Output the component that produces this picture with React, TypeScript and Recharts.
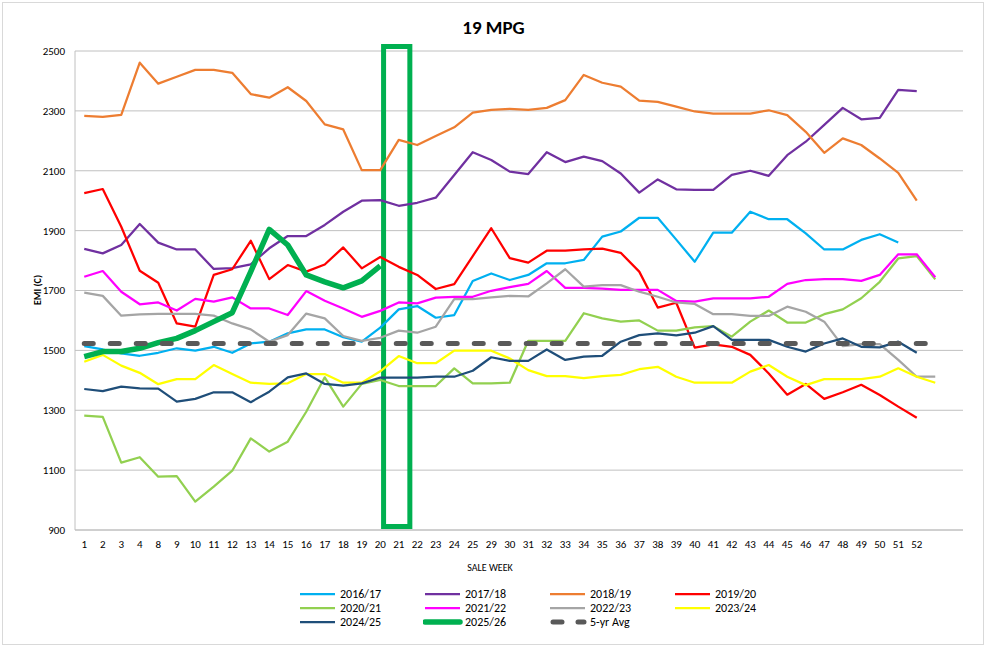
import React from "react";
import {
  LineChart,
  Line,
  XAxis,
  YAxis,
  CartesianGrid,
  ReferenceArea,
} from "recharts";

// ── sale weeks (last two slots are unlabelled) ──
const weeks = [
  "1", "2", "3", "4", "8", "9", "10", "11", "12", "13", "14", "15", "16", "17", "18", "19",
  "20", "21", "22", "23", "24", "25", "29", "30", "31", "32", "33", "34", "35", "36", "37",
  "38", "39", "40", "41", "42", "43", "44", "45", "46", "47", "48", "49", "50", "51", "52",
  "", "",
];

const yTicks = [900, 1100, 1300, 1500, 1700, 1900, 2100, 2300, 2500];

// ── EMI values per season ──
const s1617 = [1514, 1503, 1490, 1482, 1492, 1507, 1499, 1512, 1492, 1523, 1529, 1557, 1570, 1570, 1544, 1529, 1576, 1637, 1648, 1609, 1618, 1732, 1757, 1735, 1752, 1791, 1791, 1802, 1880, 1897, 1943, 1943, 1870, 1796, 1893, 1893, 1963, 1938, 1938, 1891, 1837, 1837, 1869, 1888, 1860];
const s1718 = [1839, 1824, 1852, 1922, 1860, 1837, 1837, 1772, 1775, 1787, 1841, 1882, 1882, 1919, 1963, 2000, 2002, 1983, 1993, 2010, 2086, 2162, 2136, 2097, 2089, 2162, 2129, 2147, 2132, 2091, 2027, 2071, 2038, 2036, 2036, 2086, 2100, 2083, 2152, 2197, 2253, 2310, 2272, 2277, 2370, 2366];
const s1819 = [2283, 2280, 2287, 2461, 2391, 2414, 2437, 2437, 2427, 2356, 2344, 2379, 2333, 2255, 2238, 2102, 2102, 2203, 2186, 2216, 2245, 2294, 2303, 2307, 2303, 2310, 2336, 2420, 2394, 2381, 2334, 2330, 2314, 2298, 2291, 2291, 2291, 2302, 2286, 2230, 2160, 2208, 2186, 2141, 2093, 2000];
const s1920 = [2025, 2039, 1913, 1766, 1726, 1590, 1579, 1752, 1771, 1866, 1738, 1785, 1763, 1787, 1844, 1774, 1812, 1779, 1752, 1705, 1721, 1815, 1908, 1808, 1793, 1833, 1833, 1837, 1840, 1826, 1763, 1643, 1659, 1509, 1520, 1512, 1485, 1423, 1352, 1388, 1338, 1360, 1385, 1351, 1312, 1275];
const s2021 = [1282, 1278, 1125, 1143, 1078, 1080, 995, 1045, 1098, 1206, 1162, 1195, 1295, 1410, 1312, 1388, 1401, 1381, 1381, 1381, 1440, 1390, 1390, 1392, 1532, 1532, 1532, 1624, 1607, 1596, 1600, 1566, 1566, 1577, 1581, 1546, 1596, 1633, 1593, 1593, 1621, 1637, 1674, 1729, 1807, 1815, 1737];
const s2122 = [1746, 1765, 1696, 1654, 1660, 1633, 1672, 1663, 1677, 1640, 1640, 1618, 1698, 1666, 1640, 1612, 1632, 1660, 1657, 1676, 1679, 1679, 1699, 1711, 1722, 1765, 1709, 1709, 1706, 1702, 1702, 1702, 1665, 1663, 1674, 1674, 1674, 1679, 1722, 1735, 1738, 1738, 1732, 1752, 1821, 1821, 1744];
const s2223 = [1693, 1682, 1616, 1620, 1622, 1622, 1622, 1616, 1590, 1570, 1529, 1551, 1623, 1607, 1548, 1532, 1542, 1566, 1559, 1579, 1671, 1671, 1677, 1682, 1680, 1724, 1771, 1713, 1718, 1718, 1696, 1679, 1660, 1655, 1621, 1621, 1615, 1615, 1646, 1629, 1596, 1514, 1521, 1521, 1468, 1412, 1412];
const s2324 = [1462, 1485, 1449, 1425, 1387, 1404, 1404, 1451, 1421, 1392, 1388, 1390, 1421, 1421, 1392, 1392, 1430, 1481, 1457, 1457, 1499, 1499, 1499, 1473, 1434, 1414, 1414, 1407, 1414, 1418, 1437, 1445, 1412, 1392, 1392, 1392, 1429, 1451, 1412, 1384, 1404, 1404, 1404, 1412, 1440, 1412, 1392];
const s2425 = [1371, 1364, 1379, 1373, 1372, 1329, 1338, 1360, 1360, 1327, 1362, 1410, 1423, 1388, 1382, 1390, 1409, 1409, 1409, 1412, 1412, 1432, 1477, 1465, 1465, 1503, 1468, 1479, 1482, 1529, 1551, 1557, 1550, 1559, 1581, 1535, 1535, 1535, 1512, 1496, 1523, 1540, 1512, 1510, 1529, 1492];
const s2526 = [1479, 1496, 1496, 1507, 1526, 1540, 1566, 1596, 1626, 1763, 1904, 1852, 1752, 1729, 1709, 1732, 1782];
const avg5 = [1523, 1523, 1523, 1523, 1523, 1523, 1523, 1523, 1523, 1523, 1523, 1523, 1523, 1523, 1523, 1523, 1523, 1523, 1523, 1523, 1523, 1523, 1523, 1523, 1523, 1523, 1523, 1523, 1523, 1523, 1523, 1523, 1523, 1523, 1523, 1523, 1523, 1523, 1523, 1523, 1523, 1523, 1523, 1523, 1523, 1523, 1523];

// highlight box around the current week (x in week-slot index, y in EMI)
const boxX = [16.18, 17.6];
const boxY = [912, 2515];

const series = [
  { key: "s1617", name: "2016/17", values: s1617, color: "#00B0F0", width: 2.25 },
  { key: "s1718", name: "2017/18", values: s1718, color: "#7030A0", width: 2.25 },
  { key: "s1819", name: "2018/19", values: s1819, color: "#ED7D31", width: 2.25 },
  { key: "s1920", name: "2019/20", values: s1920, color: "#FF0000", width: 2.25 },
  { key: "s2021", name: "2020/21", values: s2021, color: "#92D050", width: 2.25 },
  { key: "s2122", name: "2021/22", values: s2122, color: "#FF00FF", width: 2.25 },
  { key: "s2223", name: "2022/23", values: s2223, color: "#A5A5A5", width: 2.25 },
  { key: "s2324", name: "2023/24", values: s2324, color: "#FFFF00", width: 2.25 },
  { key: "s2425", name: "2024/25", values: s2425, color: "#1F4E79", width: 2.25 },
  { key: "s2526", name: "2025/26", values: s2526, color: "#00B050", width: 5.5 },
  { key: "avg5", name: "5-yr Avg", values: avg5, color: "#595959", width: 5, dash: "9 17" },
];

const data = weeks.map((w, i) => {
  const row: Record<string, any> = { i, week: w };
  series.forEach((s) => {
    row[s.key] = i < s.values.length ? s.values[i] : null;
  });
  return row;
});

const tickIdx = weeks.map((w, i) => (w ? i : -1)).filter((i) => i >= 0);

const FONT = "Carlito, Calibri, 'Liberation Sans', Arial, sans-serif";

function LegendBox() {
  return (
    <div
      style={{
        position: "absolute",
        left: 298,
        top: 587,
        display: "grid",
        gridTemplateColumns: "125px 125px 125px 125px",
        rowGap: 0,
        fontFamily: FONT,
        fontSize: 12,
        color: "#000",
      }}
    >
      {series.map((s) => (
        <div key={s.key} style={{ display: "flex", alignItems: "center", height: 14 }}>
          <svg width={40} height={10} style={{ marginRight: 2 }}>
            <line
              x1={s.dash ? 5 : 2}
              x2={s.dash ? 36 : 37}
              y1={5}
              y2={5}
              stroke={s.color}
              strokeWidth={s.width}
              strokeDasharray={s.dash ? "9 16" : undefined}
              strokeLinecap={s.dash || s.width > 3 ? "round" : "butt"}
            />
          </svg>
          <span>{s.name}</span>
        </div>
      ))}
    </div>
  );
}

export default function App() {
  return (
    <div
      style={{
        position: "fixed",
        left: 0,
        top: 0,
        width: 987,
        height: 648,
        background: "#fff",
        fontFamily: FONT,
      }}
    >
      <div
        style={{
          position: "absolute",
          left: 2,
          top: 2,
          width: 980,
          height: 641,
          border: "1px solid #d9d9d9",
        }}
      />
      <div
        style={{
          position: "absolute",
          left: 0,
          width: 987,
          top: 16,
          textAlign: "center",
          fontSize: 19,
          fontWeight: "bold",
          color: "#000",
        }}
      >
        19 MPG
      </div>
      <div
        style={{
          position: "absolute",
          left: 37,
          top: 290,
          transform: "translate(-50%, -50%) rotate(-90deg)",
          fontSize: 10,
          fontWeight: "bold",
          whiteSpace: "nowrap",
        }}
      >
        EMI (C)
      </div>
      <div
        style={{
          position: "absolute",
          left: 0,
          width: 980,
          top: 561,
          textAlign: "center",
          fontSize: 10,
          color: "#000",
        }}
      >
        SALE WEEK
      </div>
      <div style={{ position: "absolute", left: 0, top: 0 }}>
        <LineChart
          width={987}
          height={648}
          data={data}
          margin={{ top: 51, right: 24, left: 25, bottom: 88 }}
        >
          <CartesianGrid vertical={false} stroke="#c0c0c0" strokeWidth={1} />
          <XAxis
            dataKey="i"
            type="number"
            domain={[-0.5, 47.5]}
            ticks={tickIdx}
            interval={0}
            tickFormatter={(v) => weeks[v]}
            tick={{ fontSize: 11, fill: "#000", fontFamily: FONT }}
            tickLine={false}
            axisLine={{ stroke: "#c0c0c0" }}
            tickMargin={4}
            height={30}
          />
          <YAxis
            type="number"
            domain={[900, 2500]}
            ticks={yTicks}
            interval={0}
            tick={{ fontSize: 11, fill: "#000", fontFamily: FONT }}
            tickLine={false}
            axisLine={{ stroke: "#c0c0c0" }}
            tickMargin={4}
            width={50}
          />
          {series.map((s) => (
            <Line
              key={s.key}
              type="linear"
              dataKey={s.key}
              name={s.name}
              stroke={s.color}
              strokeWidth={s.width}
              strokeDasharray={s.dash}
              strokeLinecap={s.dash ? "round" : "butt"}
              strokeLinejoin="round"
              dot={false}
              activeDot={false}
              isAnimationActive={false}
              connectNulls={false}
            />
          ))}
          <ReferenceArea
            x1={boxX[0]}
            x2={boxX[1]}
            y1={boxY[0]}
            y2={boxY[1]}
            fill="none"
            fillOpacity={0}
            stroke="#00B050"
            strokeWidth={5}
            ifOverflow="visible"
          />
        </LineChart>
      </div>
      <LegendBox />
    </div>
  );
}
